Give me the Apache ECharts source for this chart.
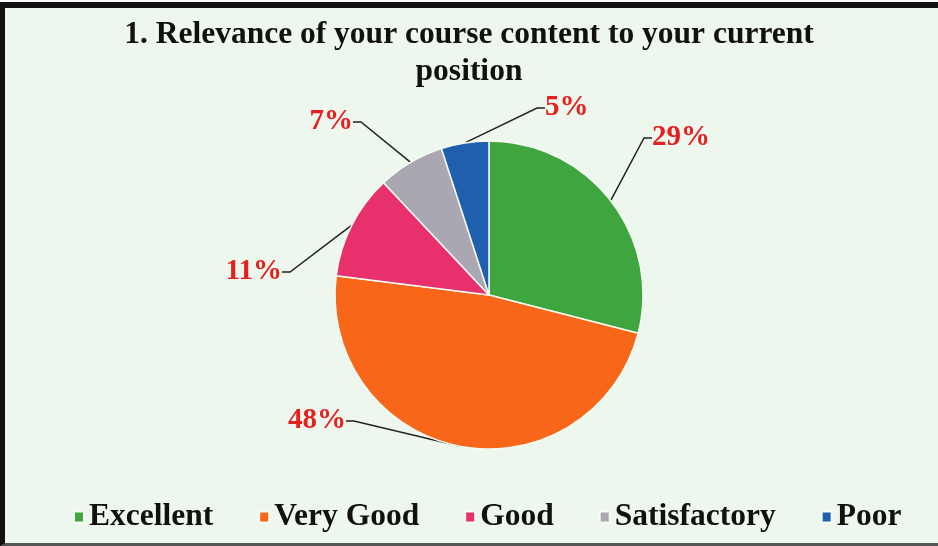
<!DOCTYPE html>
<html>
<head>
<meta charset="utf-8">
<script src="https://cdn.jsdelivr.net/npm/echarts@6/dist/echarts.min.js"></script>
<style>
  html, body { margin: 0; padding: 0; background: #ffffff; }
  #frame {
    position: absolute; left: 0; top: 2px; width: 938px; height: 544px;
    box-sizing: border-box;
    border-top: 6px solid #111; border-left: 5px solid #111; border-bottom: 3px solid #555;
    background: #eef7ee;
  }
  #chart { position: absolute; left: 0; top: 0; width: 938px; height: 546px; }
</style>
</head>
<body>
<div id="frame"></div>
<div id="chart"></div>
<script>
// Data
const categories = ['Excellent', 'Very Good', 'Good', 'Satisfactory', 'Poor'];
const percents = [29, 48, 11, 7, 5];
const colors = ['#3ea53f', '#f8661a', '#e8306c', '#aaa6b2', '#1f5fae'];

// Where each label sits (px), set by hand to follow the reference layout
const labelSpots = [
    { x: 652, y: 138, align: 'left' },
    { x: 346, y: 421, align: 'right' },
    { x: 282, y: 272, align: 'right' },
    { x: 353, y: 122, align: 'right' },
    { x: 545, y: 108, align: 'left' }
];

const chart = echarts.init(document.getElementById('chart'));

const option = {
    backgroundColor: 'transparent',
    title: {
        text: '1. Relevance of your course content to your current\nposition',
        left: 'center',
        top: 11,
        textStyle: {
            fontFamily: 'Liberation Serif',
            fontWeight: 'bold',
            fontSize: 31.5,
            lineHeight: 37,
            color: '#111'
        }
    },
    legend: {
        data: categories,
        bottom: 8,
        left: 68,
        icon: 'rect',
        itemWidth: 10,
        itemHeight: 11,
        itemGap: 45,
        textStyle: {
            fontFamily: 'Liberation Serif',
            fontWeight: 'bold',
            fontSize: 31.5,
            color: '#111'
        }
    },
    series: [{
        type: 'pie',
        center: [489, 295],
        radius: 154,
        startAngle: 90,
        clockwise: true,
        itemStyle: { borderColor: '#f4fbf2', borderWidth: 1.5 },
        label: {
            show: true,
            position: 'outside',
            formatter: '{c}%',
            fontFamily: 'Liberation Serif',
            fontWeight: 'bold',
            fontSize: 29,
            color: '#e5201f'
        },
        labelLine: {
            show: true,
            length: 20,
            length2: 8,
            lineStyle: { color: '#222', width: 1.5 }
        },
        labelLayout: (params) => {
            const s = labelSpots[params.dataIndex];
            return { x: s.x, y: s.y, align: s.align, verticalAlign: 'middle' };
        },
        data: categories.map((name, i) => ({
            name: name,
            value: percents[i],
            itemStyle: { color: colors[i] }
        }))
    }]
};

chart.setOption(option);
</script>
</body>
</html>
